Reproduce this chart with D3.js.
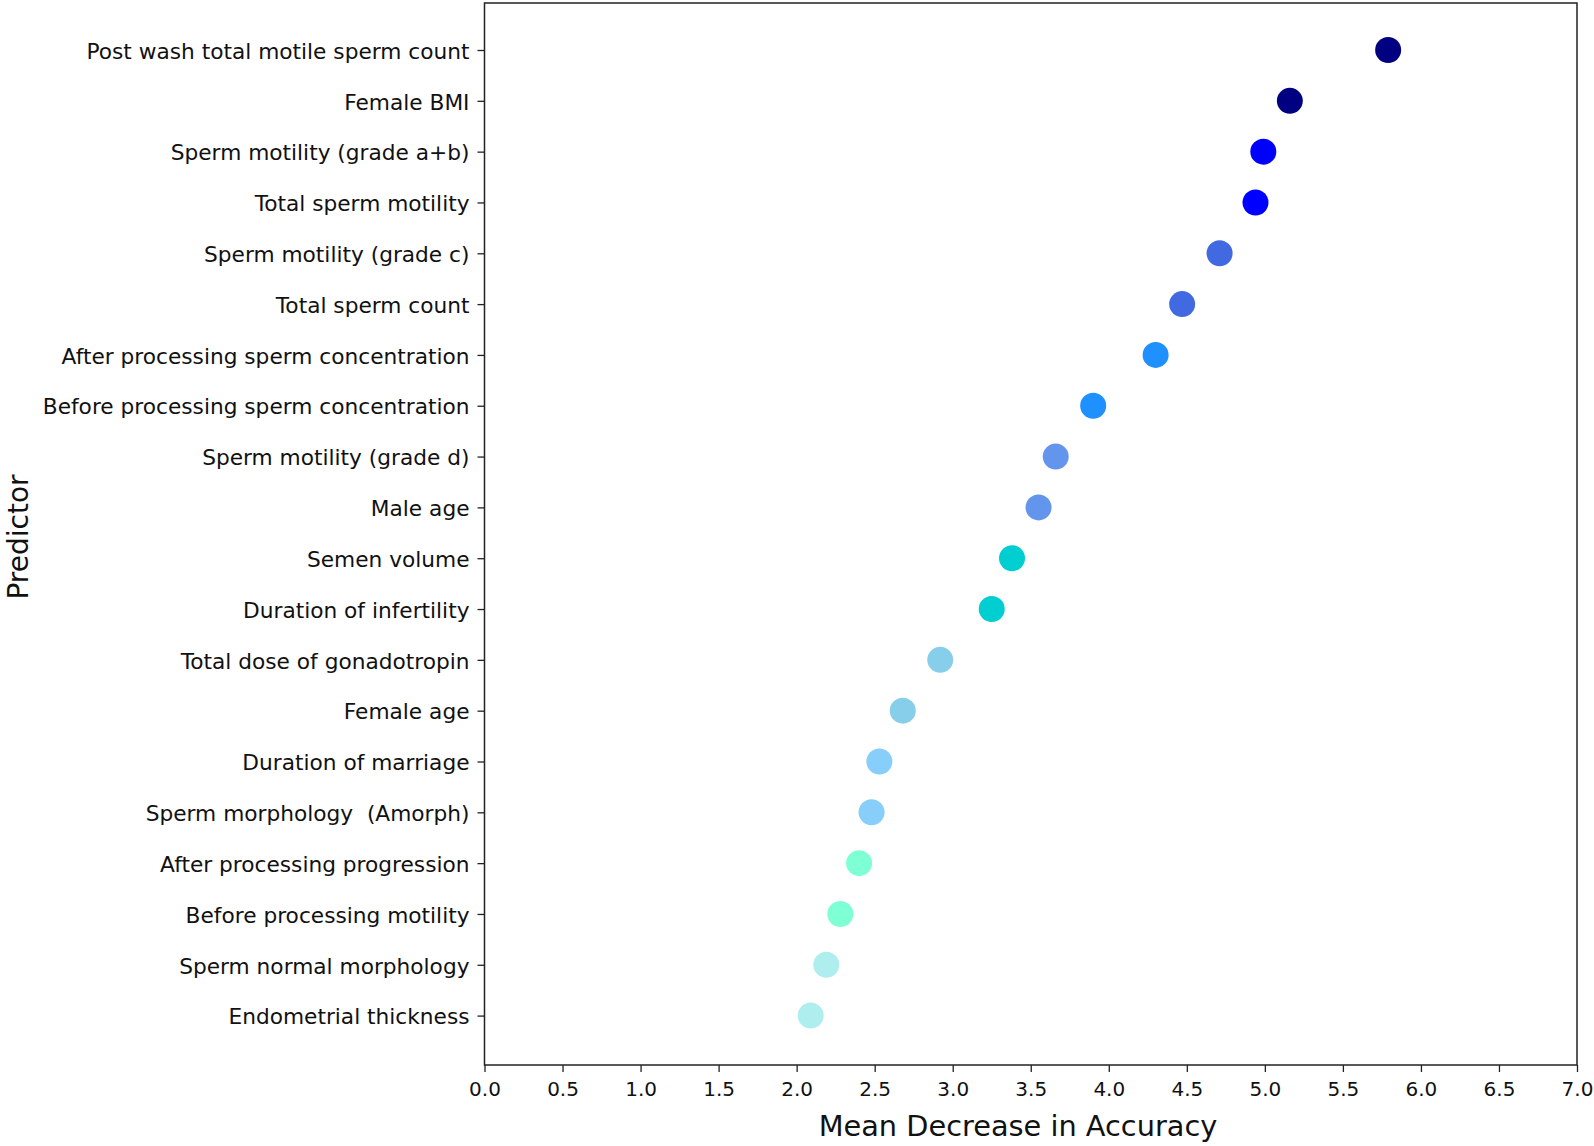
<!DOCTYPE html>
<html>
<head>
<meta charset="utf-8">
<script src="https://cdnjs.cloudflare.com/ajax/libs/d3/7.8.5/d3.min.js"></script>
<style>
  html, body { margin: 0; padding: 0; background: #fff; }
  svg { display: block; font-family: "DejaVu Sans", sans-serif; }
</style>
</head>
<body>
<svg id="chart" width="1594" height="1146"></svg>
<script>
const predictors = [
  "Post wash total motile sperm count",
  "Female BMI",
  "Sperm motility (grade a+b)",
  "Total sperm motility",
  "Sperm motility (grade c)",
  "Total sperm count",
  "After processing sperm concentration",
  "Before processing sperm concentration",
  "Sperm motility (grade d)",
  "Male age",
  "Semen volume",
  "Duration of infertility",
  "Total dose of gonadotropin",
  "Female age",
  "Duration of marriage",
  "Sperm morphology  (Amorph)",
  "After processing progression",
  "Before processing motility",
  "Sperm normal morphology",
  "Endometrial thickness"
];
const meanDecrease = [5.79, 5.16, 4.99, 4.94, 4.71, 4.47, 4.30, 3.90, 3.66, 3.55,
                      3.38, 3.25, 2.92, 2.68, 2.53, 2.48, 2.40, 2.28, 2.19, 2.09];
const dotColors = ["#000080", "#000080", "#0000ff", "#0000ff", "#4169e1", "#4169e1",
                   "#1e90ff", "#1e90ff", "#6495ed", "#6495ed", "#00ced1", "#00ced1",
                   "#87ceeb", "#87ceeb", "#87cefa", "#87cefa", "#7fffd4", "#7fffd4",
                   "#afeeee", "#afeeee"];
const xTicks = [0, 0.5, 1, 1.5, 2, 2.5, 3, 3.5, 4, 4.5, 5, 5.5, 6, 6.5, 7];
const xLabel = "Mean Decrease in Accuracy";
const yLabel = "Predictor";

const plotLeft = 484.5, plotRight = 1577, plotTop = 3, plotBottom = 1065;
const svg = d3.select("#chart");

const x = d3.scaleLinear().domain([0, 7]).range([plotLeft, plotRight]);
const y = d3.scalePoint().domain(predictors).range([50, 1015.6]);

const data = predictors.map((p, i) => ({ p, v: meanDecrease[i], c: dotColors[i] }));

// frame
svg.append("rect")
  .attr("x", plotLeft).attr("y", plotTop)
  .attr("width", plotRight - plotLeft).attr("height", plotBottom - plotTop)
  .attr("fill", "none").attr("stroke", "#222").attr("stroke-width", 1.5);

// x axis
const xAxis = svg.append("g")
  .attr("transform", `translate(0,${plotBottom})`)
  .call(d3.axisBottom(x).tickValues(xTicks).tickFormat(d3.format(".1f")).tickSize(7).tickPadding(10));
xAxis.select(".domain").remove();
xAxis.selectAll(".tick line").attr("stroke", "#222").attr("stroke-width", 1.3);
xAxis.selectAll(".tick text").attr("font-size", "20px").attr("fill", "#111")
  .attr("font-family", "DejaVu Sans");

// y axis
const yAxis = svg.append("g")
  .attr("transform", `translate(${plotLeft},0)`)
  .call(d3.axisLeft(y).tickSize(7).tickPadding(8));
yAxis.select(".domain").remove();
yAxis.selectAll(".tick line").attr("stroke", "#222").attr("stroke-width", 1.3);
yAxis.selectAll(".tick text").attr("font-size", "21.7px").attr("fill", "#111")
  .attr("font-family", "DejaVu Sans").attr("dy", "0.38em").style("white-space", "pre");

// dots
svg.append("g").selectAll("circle").data(data).join("circle")
  .attr("cx", d => x(d.v))
  .attr("cy", d => y(d.p))
  .attr("r", 13)
  .attr("fill", d => d.c);

// axis labels
svg.append("text")
  .attr("x", 1018).attr("y", 1136)
  .attr("text-anchor", "middle")
  .attr("font-size", "28.8px").attr("fill", "#111")
  .text(xLabel);

svg.append("text")
  .attr("transform", "translate(28,537) rotate(-90)")
  .attr("text-anchor", "middle")
  .attr("font-size", "28px").attr("fill", "#111")
  .text(yLabel);
</script>
</body>
</html>
